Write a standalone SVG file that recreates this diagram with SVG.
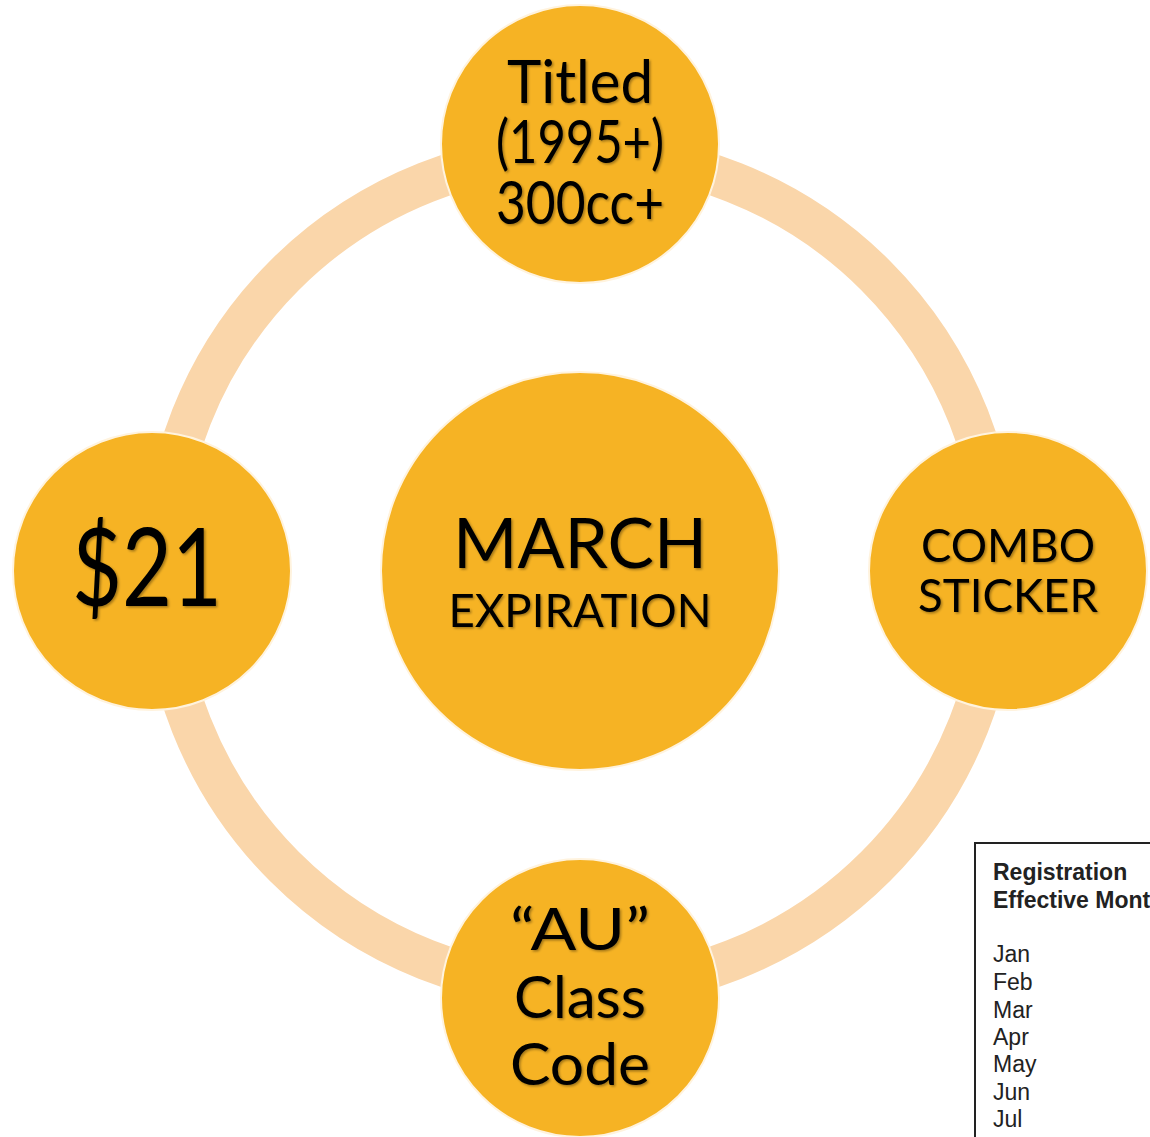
<svg xmlns="http://www.w3.org/2000/svg" width="1150" height="1137" viewBox="0 0 1150 1137">
<defs>
<filter id="sh" x="-10%" y="-10%" width="130%" height="130%">
<feDropShadow dx="1.5" dy="1.5" stdDeviation="1.2" flood-color="#000" flood-opacity="0.35"/>
</filter>
<style>
.node{fill:#F6B324;stroke:#FFF3DE;stroke-width:2}
.lbl{font-family:Lato,"Open Sans","DejaVu Sans",sans-serif;fill:#000;text-anchor:middle;filter:url(#sh)}
.ring{fill:none;stroke:#FAD6AA;stroke-width:41}
.tb{font-family:"Liberation Sans",Arial,sans-serif;font-size:23px;fill:#222}
</style>
</defs>
<rect width="1150" height="1137" fill="#fff"/>
<g id="connectors">
<circle class="ring" cx="580" cy="571" r="418"/>
</g>
<g id="node-center">
<circle class="node" cx="580" cy="571" r="199"/>
<text class="lbl" x="580" y="568" font-size="70" textLength="254" lengthAdjust="spacingAndGlyphs">MARCH</text>
<text class="lbl" x="580" y="627" font-size="46" textLength="263" lengthAdjust="spacingAndGlyphs">EXPIRATION</text>
</g>
<g id="node-top">
<circle class="node" cx="580" cy="144" r="139"/>
<text class="lbl" x="580" y="103" font-size="60" textLength="146" lengthAdjust="spacingAndGlyphs">Titled</text>
<text class="lbl" x="580" y="163" font-size="60" textLength="168" lengthAdjust="spacingAndGlyphs">(1995+)</text>
<text class="lbl" x="580" y="224" font-size="60" textLength="168" lengthAdjust="spacingAndGlyphs">300cc+</text>
</g>
<g id="node-left">
<circle class="node" cx="152" cy="571" r="139"/>
<text class="lbl" x="147" y="606" font-size="108" textLength="150" lengthAdjust="spacingAndGlyphs">$21</text>
</g>
<g id="node-right">
<circle class="node" cx="1008" cy="571" r="139"/>
<text class="lbl" x="1008" y="562" font-size="47" textLength="174" lengthAdjust="spacingAndGlyphs">COMBO</text>
<text class="lbl" x="1008" y="612" font-size="47" textLength="180" lengthAdjust="spacingAndGlyphs">STICKER</text>
</g>
<g id="node-bottom">
<circle class="node" cx="580" cy="998" r="139"/>
<text class="lbl" x="580" y="950" font-size="58" textLength="140" lengthAdjust="spacingAndGlyphs">“AU”</text>
<text class="lbl" x="580" y="1018" font-size="58" textLength="132" lengthAdjust="spacingAndGlyphs">Class</text>
<text class="lbl" x="580" y="1085" font-size="58" textLength="140" lengthAdjust="spacingAndGlyphs">Code</text>
</g>
<g id="table-box">
<rect x="975" y="843" width="190" height="310" fill="#fff" stroke="#222" stroke-width="2"/>
<text class="tb" x="993" y="880" font-weight="bold">Registration</text>
<text class="tb" x="993" y="908" font-weight="bold">Effective Month</text>
<text class="tb" x="993" y="962">Jan</text>
<text class="tb" x="993" y="990">Feb</text>
<text class="tb" x="993" y="1018">Mar</text>
<text class="tb" x="993" y="1045">Apr</text>
<text class="tb" x="993" y="1072">May</text>
<text class="tb" x="993" y="1100">Jun</text>
<text class="tb" x="993" y="1127">Jul</text>
</g>
</svg>
